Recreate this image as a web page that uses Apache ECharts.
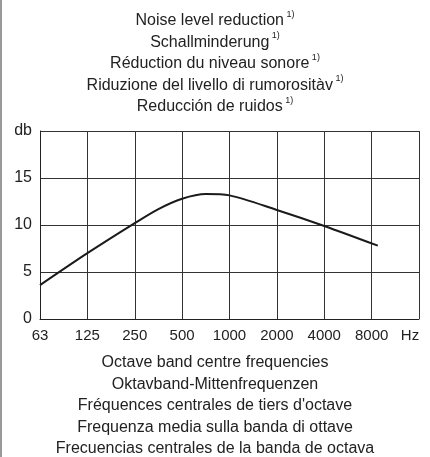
<!DOCTYPE html>
<html>
<head>
<meta charset="utf-8">
<script src="https://cdn.jsdelivr.net/npm/echarts@6/dist/echarts.min.js"></script>
<style>
html, body { margin: 0; padding: 0; background: #fff; }
#main { width: 430px; height: 457px; }
</style>
</head>
<body>
<div id="main"></div>
<script type="text/javascript">
// octave band labels, last tick is the unit
var freqLabels = ['63', '125', '250', '500', '1000', '2000', '4000', '8000', 'Hz'];
// curve: x in octave steps from 63 Hz, y in db
var curveX = [0, 1, 2, 2.5, 3, 3.5, 4, 5, 6, 7.13];
var curveY = [3.6, 7.0, 10.2, 11.7, 12.8, 13.3, 13.15, 11.6, 9.9, 7.8];

var titleLines = [
    'Noise level reduction',
    'Schallminderung',
    'Réduction du niveau sonore',
    'Riduzione del livello di rumorositàv',
    'Reducción de ruidos'
];
var bottomLines = [
    'Octave band centre frequencies',
    'Oktavband-Mittenfrequenzen',
    'Fréquences centrales de tiers d\'octave',
    'Frequenza media sulla banda di ottave',
    'Frecuencias centrales de la banda de octava'
];

var dom = document.getElementById('main');
var myChart = echarts.init(dom);
var font = '"Liberation Sans", Arial, sans-serif';

var lineData = [];
for (var i = 0; i < curveX.length; i++) {
    lineData.push([curveX[i], curveY[i]]);
}

var titleText = titleLines.map(function (t) { return '{a|' + t + '}{s| 1)}'; }).join('\n');

option = {
    animation: false,
    textStyle: { fontFamily: font },
    title: [
        {
            text: titleText,
            left: 'center',
            top: 5,
            textStyle: {
                fontWeight: 'normal',
                rich: {
                    a: { fontSize: 16, fontWeight: 'normal', color: '#222', fontFamily: font, lineHeight: 21.5 },
                    s: { fontSize: 9, fontWeight: 'normal', color: '#222', fontFamily: font, verticalAlign: 'top', lineHeight: 21.5, padding: [0, 0, 8, 0] }
                }
            }
        },
        {
            text: bottomLines.join('\n'),
            left: 'center',
            top: 347,
            textStyle: { fontSize: 16, fontWeight: 'normal', color: '#222', fontFamily: font, lineHeight: 21.5 }
        }
    ],
    graphic: [
        { type: 'line', shape: { x1: 1, y1: 0, x2: 1, y2: 457 }, style: { stroke: '#999', lineWidth: 2 } }
    ],
    grid: { left: 40, right: 11, top: 131, bottom: 138 },
    xAxis: {
        type: 'value',
        min: 0,
        max: 8,
        interval: 1,
        axisLine: { show: true, lineStyle: { color: '#222', width: 1 } },
        axisTick: { show: false },
        splitLine: { show: true, lineStyle: { color: '#333', width: 1 } },
        axisLabel: {
            color: '#222',
            fontSize: 15,
            fontFamily: font,
            margin: 9,
            formatter: function (v) {
                return v === 8 ? '{hz|' + freqLabels[v] + '}' : freqLabels[v];
            },
            rich: {
                hz: { fontSize: 15, color: '#222', fontFamily: font, padding: [0, 18, 0, 0] }
            }
        }
    },
    yAxis: {
        type: 'value',
        min: 0,
        max: 20,
        interval: 5,
        axisLine: { show: true, lineStyle: { color: '#222', width: 1 } },
        axisTick: { show: false },
        splitLine: { show: true, lineStyle: { color: '#333', width: 1 } },
        axisLabel: {
            color: '#222',
            fontSize: 16,
            fontFamily: font,
            margin: 8,
            formatter: function (v) { return v === 20 ? 'db' : String(v); }
        }
    },
    series: [
        {
            type: 'line',
            data: lineData,
            smooth: 0.3,
            symbol: 'none',
            lineStyle: { color: '#1a1a1a', width: 2 }
        }
    ]
};

if (option && typeof option === "object") {
    myChart.setOption(option, true);
}
</script>
</body>
</html>
